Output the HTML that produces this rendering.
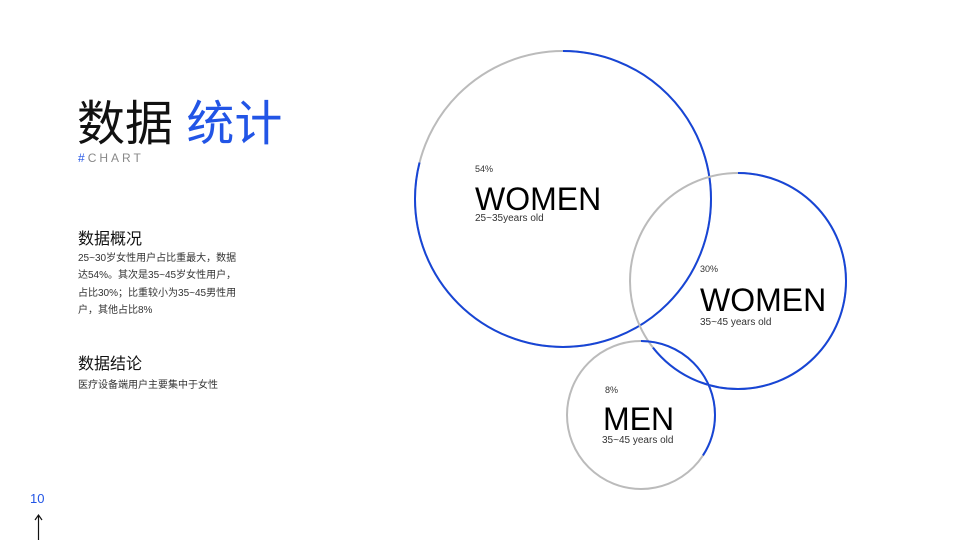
<!DOCTYPE html>
<html><head><meta charset="utf-8"><style>
body{margin:0;width:960px;height:540px;background:#fff;overflow:hidden;position:relative;font-family:"Liberation Sans","Noto Sans CJK SC",sans-serif;}
.a{position:absolute;white-space:nowrap;}
</style></head><body>
<div class="a" style="left:77px;top:97px;font-size:48px;line-height:56px;color:#111;">数据 <span style="color:#2255e6">统计</span></div>
<div class="a" style="left:78px;top:151px;font-size:12px;letter-spacing:3px;color:#888;"><span style="color:#2255e6">#</span>CHART</div>
<div class="a" style="left:78px;top:225px;font-size:16px;color:#111;">数据概况</div>
<div class="a" style="left:78px;top:250px;font-size:10px;line-height:17.4px;color:#333;white-space:normal;width:162px;">25~30岁女性用户占比重最大，数据达54%。其次是35~45岁女性用户，占比30%；比重较小为35~45男性用户，其他占比8%</div>
<div class="a" style="left:78px;top:350px;font-size:16px;color:#111;">数据结论</div>
<div class="a" style="left:78px;top:376px;font-size:10px;color:#333;">医疗设备端用户主要集中于女性</div>
<div class="a" style="left:30px;top:491px;font-size:13px;color:#2255e6;">10</div>
<svg width="960" height="540" style="position:absolute;left:0;top:0">
<line x1="38.5" y1="540" x2="38.5" y2="516" stroke="#111" stroke-width="1.2"/>
<path d="M35 520 L38.5 515 L42 520" fill="none" stroke="#111" stroke-width="1.2"/>
<g fill="none" stroke-width="2">
<circle cx="563" cy="199" r="148" stroke="#bbb"/>
<circle cx="563" cy="199" r="148" stroke="#1745d6" stroke-dasharray="734 1000" transform="rotate(-90 563 199)"/>
<circle cx="738" cy="281" r="108" stroke="#bbb"/>
<circle cx="738" cy="281" r="108" stroke="#1745d6" stroke-dasharray="437 1000" transform="rotate(-90 738 281)"/>
<circle cx="641" cy="415" r="74" stroke="#bbb"/>
<circle cx="641" cy="415" r="74" stroke="#1745d6" stroke-dasharray="159 1000" transform="rotate(-90 641 415)"/>
</g>
</svg>
<div class="a" style="left:475px;top:164px;font-size:9px;color:#333;">54%</div>
<div class="a" style="left:475px;top:181px;font-size:32px;color:#000;">WOMEN</div>
<div class="a" style="left:475px;top:213px;font-size:10px;color:#333;">25~35years old</div>
<div class="a" style="left:700px;top:264px;font-size:9px;color:#333;">30%</div>
<div class="a" style="left:700px;top:282px;font-size:32px;color:#000;">WOMEN</div>
<div class="a" style="left:700px;top:317px;font-size:10px;color:#333;">35~45 years old</div>
<div class="a" style="left:605px;top:385px;font-size:9px;color:#333;">8%</div>
<div class="a" style="left:603px;top:401px;font-size:32px;color:#000;">MEN</div>
<div class="a" style="left:602px;top:435px;font-size:10px;color:#333;">35~45 years old</div>
</body></html>
